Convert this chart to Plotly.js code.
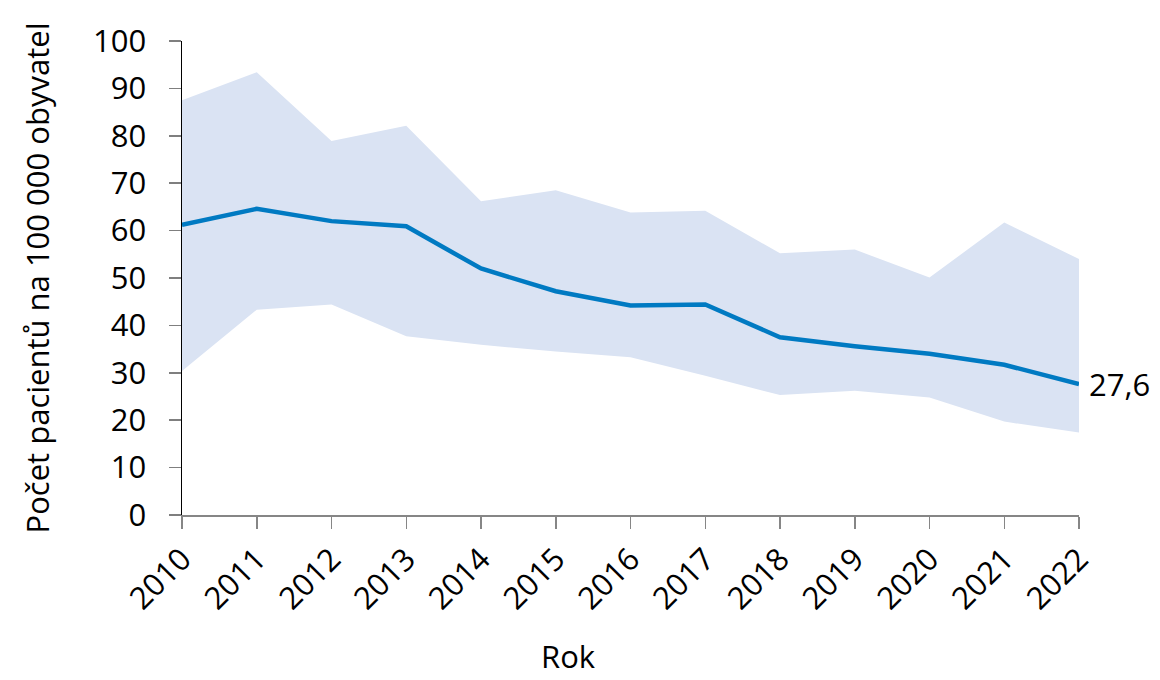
<!DOCTYPE html>
<html>
<head>
<meta charset="utf-8">
<script src="https://cdn.plot.ly/plotly-3.0.1.min.js"></script>
<style>html,body{margin:0;padding:0;background:#fff;}#chart{width:1160px;height:680px;}</style>
</head>
<body>
<div id="chart"></div>
<script>
const years = [2010, 2011, 2012, 2013, 2014, 2015, 2016, 2017, 2018, 2019, 2020, 2021, 2022];
const meanValues = [61.2, 64.6, 62.0, 60.9, 52.0, 47.2, 44.2, 44.4, 37.5, 35.6, 34.0, 31.7, 27.6];
const upperValues = [87.5, 93.4, 78.9, 82.1, 66.2, 68.5, 63.8, 64.2, 55.2, 56.0, 50.1, 61.7, 54.0];
const lowerValues = [30.4, 43.3, 44.4, 37.7, 35.9, 34.5, 33.3, 29.4, 25.3, 26.2, 24.8, 19.7, 17.4];
const yTicks = [0, 10, 20, 30, 40, 50, 60, 70, 80, 90, 100];
const lastLabel = '27,6';
const xTitle = 'Rok';
const yTitle = 'Počet pacientů na 100 000 obyvatel';

const FONT = '"Open Sans", "DejaVu Sans", sans-serif';
const FS = 31;

const traces = [
  {x: years, y: lowerValues, type: 'scatter', mode: 'lines', line: {width: 0, color: 'rgba(0,0,0,0)'}, hoverinfo: 'skip', showlegend: false},
  {x: years, y: upperValues, type: 'scatter', mode: 'lines', fill: 'tonexty', fillcolor: 'rgb(218,227,243)', line: {width: 0, color: 'rgba(0,0,0,0)'}, hoverinfo: 'skip', showlegend: false},
  {x: years, y: meanValues, type: 'scatter', mode: 'lines', line: {width: 4.5, color: 'rgb(0,122,194)'}, showlegend: false}
];

const layout = {
  width: 1160, height: 680,
  margin: {l: 182, r: 81, t: 41, b: 165},
  paper_bgcolor: '#fff', plot_bgcolor: '#fff',
  font: {family: FONT, size: FS, color: '#000'},
  showlegend: false,
  xaxis: {
    range: [years[0], years[years.length - 1]],
    tickmode: 'array', tickvals: years, ticktext: years.map(String),
    tickangle: -45,
    showgrid: false, zeroline: false,
    showline: true, linecolor: '#868686', linewidth: 1.5,
    ticks: 'outside', ticklen: 12, tickcolor: '#868686', tickwidth: 1.5,
    tickfont: {family: FONT, size: FS, color: '#000'},
    automargin: false
  },
  yaxis: {
    range: [0, 100],
    tickmode: 'array', tickvals: yTicks, ticktext: yTicks.map(String),
    showgrid: false, zeroline: false,
    showline: true, linecolor: '#000', linewidth: 1.5,
    ticks: 'outside', ticklen: 12, tickcolor: '#7f7f7f', tickwidth: 1.5,
    ticklabelstandoff: 16,
    tickfont: {family: FONT, size: FS, color: '#000'},
    title: {text: yTitle, font: {family: FONT, size: FS, color: '#000'}, standoff: 34},
    automargin: false
  },
  annotations: [
    {x: years[years.length - 1], y: meanValues[meanValues.length - 1], xref: 'x', yref: 'y', text: lastLabel, showarrow: false, xanchor: 'left', yanchor: 'middle', xshift: 8, font: {family: FONT, size: FS, color: '#000'}},
    {x: 0.431, y: -0.298, xref: 'paper', yref: 'paper', text: xTitle, showarrow: false, xanchor: 'center', yanchor: 'middle', borderpad: 0, font: {family: FONT, size: FS, color: '#000'}}
  ]
};

Plotly.newPlot('chart', traces, layout, {displayModeBar: false, staticPlot: true});
</script>
</body>
</html>
